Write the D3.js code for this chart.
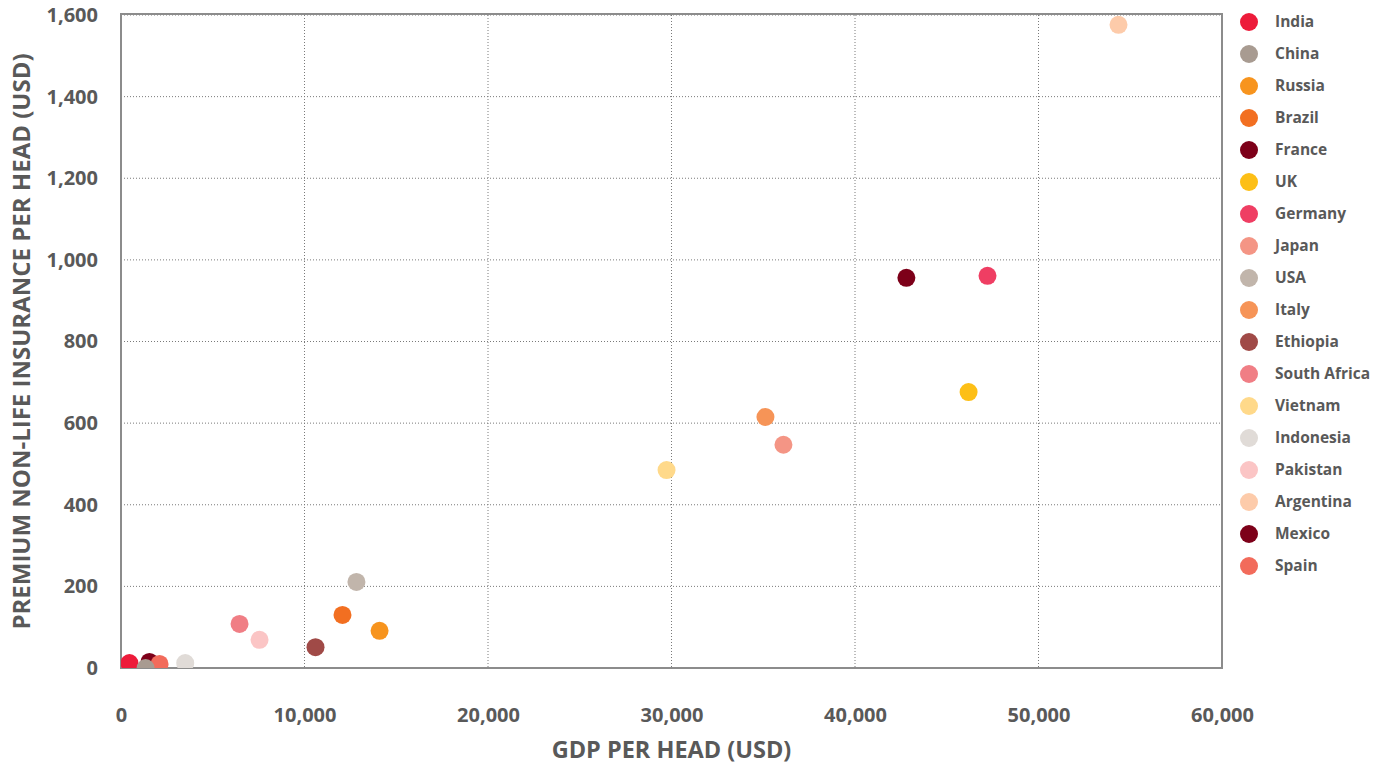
<!DOCTYPE html>
<html>
<head>
<meta charset="utf-8">
<script src="https://cdn.jsdelivr.net/npm/d3@7"></script>
<style>
  body { margin: 0; background: #fff; }
  text { font-family: "Open Sans", sans-serif; font-weight: 700; fill: #595959; }
</style>
</head>
<body>
<div id="container"></div>
<script>
/* CONSTANTS AND GLOBALS */
const width = 1384,
  height = 765,
  margin = { top: 15, bottom: 97, left: 121, right: 162 };

/* DATA */
const countries = ["India", "China", "Russia", "Brazil", "France", "UK", "Germany", "Japan", "USA",
  "Italy", "Ethiopia", "South Africa", "Vietnam", "Indonesia", "Pakistan", "Argentina", "Mexico", "Spain"];
const colors = ["#ED1B3A", "#A89B91", "#F7941E", "#F26F21", "#7D0019", "#FDBF16", "#EF3E63", "#F49585", "#C1B5AB",
  "#F69457", "#A04A47", "#F07E85", "#FFD98A", "#E0DBD7", "#FBC5C5", "#FDCBAA", "#7D0019", "#F26B5B"];
const gdpPerHead = [460, 1340, 14090, 12070, 42800, 46190, 47220, 36100, 12830,
  35120, 10600, 6460, 29730, 3500, 7550, 54360, 1550, 2100];
const premiumPerHead = [12, 0, 91, 130, 956, 676, 961, 547, 211,
  615, 51, 108, 485, 12, 69, 1576, 15, 10];
const xTicks = [0, 10000, 20000, 30000, 40000, 50000, 60000];
const yTicks = [0, 200, 400, 600, 800, 1000, 1200, 1400, 1600];

const data = countries.map((c, i) => ({
  country: c, color: colors[i], gdp: gdpPerHead[i], premium: premiumPerHead[i]
}));

// SCALES
const xScale = d3.scaleLinear()
  .domain([0, 60000])
  .range([margin.left, width - margin.right])

const yScale = d3.scaleLinear()
  .domain([0, 1600])
  .range([height - margin.bottom, margin.top])

const fmt = d3.format(",")

// CREATE SVG ELEMENT
const svg = d3.select("#container")
  .append("svg")
  .attr("width", width)
  .attr("height", height)

svg.append("clipPath")
  .attr("id", "plotClip")
  .append("rect")
  .attr("x", margin.left)
  .attr("y", margin.top)
  .attr("width", width - margin.right - margin.left)
  .attr("height", height - margin.bottom - margin.top)

// GRID
svg.append("g")
  .selectAll("line")
  .data(yTicks)
  .join("line")
  .attr("x1", margin.left)
  .attr("x2", width - margin.right)
  .attr("y1", d => yScale(d))
  .attr("y2", d => yScale(d))
  .attr("stroke", "#7a7a7a")
  .attr("stroke-width", 1)
  .attr("stroke-dasharray", "1,2")

svg.append("g")
  .selectAll("line")
  .data(xTicks)
  .join("line")
  .attr("x1", d => xScale(d))
  .attr("x2", d => xScale(d))
  .attr("y1", margin.top)
  .attr("y2", height - margin.bottom)
  .attr("stroke", "#7a7a7a")
  .attr("stroke-width", 1)
  .attr("stroke-dasharray", "1,2")

// AXES
const xAxis = d3.axisBottom(xScale)
  .tickValues(xTicks)
  .tickFormat(fmt)
  .tickSize(0)
  .tickPadding(40)

const xAxisGroup = svg.append("g")
  .attr("transform", `translate(0,${height - margin.bottom})`)
  .call(xAxis)
xAxisGroup.select(".domain").remove()
xAxisGroup.selectAll("text")
  .attr("font-size", 20)
  .attr("font-family", null)

const yAxis = d3.axisLeft(yScale)
  .tickValues(yTicks)
  .tickFormat(fmt)
  .tickSize(0)
  .tickPadding(23)

const yAxisGroup = svg.append("g")
  .attr("transform", `translate(${margin.left},0)`)
  .call(yAxis)
yAxisGroup.select(".domain").remove()
yAxisGroup.selectAll("text")
  .attr("font-size", 20)
  .attr("font-family", null)

// FRAME
svg.append("rect")
  .attr("x", margin.left)
  .attr("y", margin.top - 1)
  .attr("width", width - margin.right - margin.left)
  .attr("height", height - margin.bottom - margin.top + 1)
  .attr("fill", "none")
  .attr("stroke", "#8c8c8c")
  .attr("stroke-width", 2)

// POINTS
const points = svg.append("g")
  .attr("clip-path", "url(#plotClip)")

points.selectAll("circle")
  .data(data)
  .join("circle")
  .attr("cx", d => xScale(d.gdp))
  .attr("cy", d => yScale(d.premium))
  .attr("r", 9)
  .attr("fill", d => d.color)
  .filter(d => d.country === "China")
  .raise()

// AXIS TITLES
svg.append("text")
  .attr("x", (margin.left + width - margin.right) / 2)
  .attr("y", 758)
  .attr("text-anchor", "middle")
  .attr("font-size", 23.5)
  .text("GDP PER HEAD (USD)")

svg.append("text")
  .attr("transform", `translate(30,${(margin.top + height - margin.bottom) / 2}) rotate(-90)`)
  .attr("text-anchor", "middle")
  .attr("font-size", 24)
  .text("PREMIUM NON-LIFE INSURANCE PER HEAD (USD)")

// LEGEND
const legend = svg.append("g")
  .attr("transform", "translate(1249,22)")

const items = legend.selectAll("g")
  .data(data)
  .join("g")
  .attr("transform", (d, i) => `translate(0,${i * 32})`)

items.append("circle")
  .attr("r", 9)
  .attr("fill", d => d.color)

items.append("text")
  .attr("x", 26)
  .attr("dy", "0.35em")
  .attr("font-size", 15.5)
  .text(d => d.country)
</script>
</body>
</html>
